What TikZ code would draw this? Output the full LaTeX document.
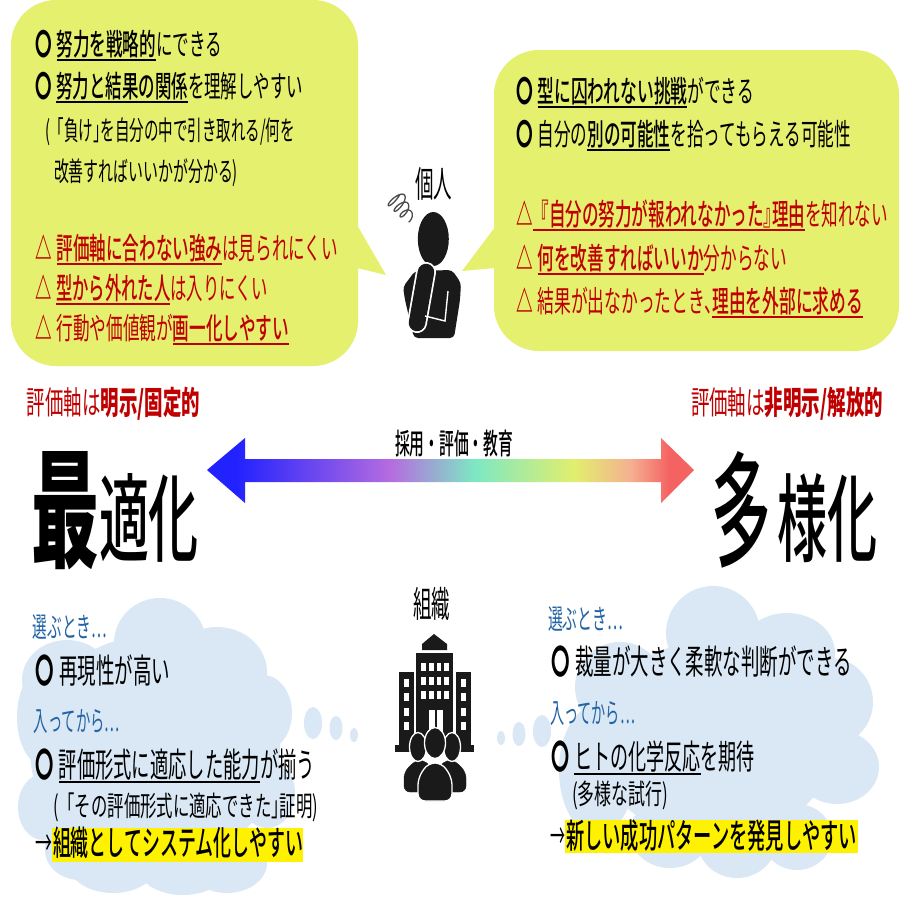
\documentclass[tikz,border=0pt]{standalone}
\usepackage{graphicx}
\usepackage{fontspec}
\setmainfont{Noto Sans CJK JP}
\newfontfamily\med{Noto Sans CJK JP Medium}
\definecolor{bub}{HTML}{E5F06F}
\definecolor{redt}{HTML}{C00000}
\definecolor{bluet}{HTML}{2364A4}
\definecolor{cloud}{HTML}{DAE8F5}
\definecolor{ink}{HTML}{1A1A1A}
\definecolor{ga}{HTML}{2222FF}
\definecolor{gb}{HTML}{B56CE0}
\definecolor{gc}{HTML}{7DE8C3}
\definecolor{gd}{HTML}{E2EE6E}
\definecolor{ge}{HTML}{F5B090}
\definecolor{gf}{HTML}{F56262}
\pgfdeclarehorizontalshading{rain}{100bp}{color(0bp)=(ga);color(25bp)=(ga);color(28bp)=(ga);color(43.85bp)=(gb);color(52.5bp)=(gc);color(62.75bp)=(gd);color(68.5bp)=(ge);color(72.5bp)=(gf);color(75bp)=(gf);color(100bp)=(gf)}
\newcommand\ulx[1]{\setbox0\hbox{#1}\rlap{\rule[-5.5pt]{\wd0}{1.3pt}}\box0}
\newcommand\ub[1]{\ulx{{\med #1}}}
\newcommand\W[2]{\resizebox{#1pt}{\height}{#2}}
\newcommand\HH[3]{\resizebox{#1pt}{#2pt}{#3}}
\newcommand\gap{\hspace{0.3em}}
\newcommand\tk{\hspace{-0.5em}}
\newcommand\cir{\textbf{〇}}
\newcommand\tri{\textbf{△}}
\tikzset{
  txt/.style={anchor=base west,inner sep=0pt,outer sep=0pt,font=\fontsize{30}{30}\selectfont},
  small/.style={txt,font=\fontsize{27}{27}\selectfont},
  redline/.style={txt,text=redt},
  lab/.style={txt,text=redt,font=\fontsize{32}{32}\selectfont},
  bluel/.style={txt,text=bluet,font=\fontsize{28}{28}\selectfont},
  big/.style={txt,font=\fontsize{34}{34}\selectfont},
  bigs/.style={txt,font=\fontsize{28}{28}\selectfont},
  huge1/.style={txt,font=\fontsize{122}{122}\selectfont\bfseries},
  huge2/.style={txt,font=\fontsize{92}{92}\selectfont\med},
  bubble/.style={fill=bub},
  cl/.style={fill=cloud},
  icon/.style={fill=ink},
  hl/.style={fill=yellow}
}
\begin{document}
\begin{tikzpicture}[x=1pt,y=-1pt]
\useasboundingbox (0,0) rectangle (900,900);
\fill[white] (0,0) rectangle (900,900);

% speech bubbles
\fill[bubble,rounded corners=45pt] (11,0) rectangle (358,366);
\fill[bubble] (357,225) -- (386,275) -- (357,268) -- cycle;
\fill[bubble,rounded corners=45pt] (494,50) rectangle (899,351);
\fill[bubble] (495,227) -- (462,271) -- (495,268) -- cycle;

% left bubble text
\node[txt] (l1) at (35,55) {\W{187}{\cir\gap\ub{努力を戦略的}にできる}};
\node[txt] (l2) at (35,97) {\W{268}{\cir\gap\ub{努力と結果の関係}を理解しやすい}};
\node[small] (l3) at (45,140) {\W{250}{(「負け」\tk を自分の中で引き取れる/何を}};
\node[small] (l4) at (54,181) {\W{184}{改善すればいいかが分かる)}};
\node[redline] (l5) at (35,259) {\W{303}{\tri\gap\ub{評価軸に合わない強み}は見られにくい}};
\node[redline] (l6) at (35,299) {\W{233}{\tri\gap\ub{型から外れた人}は入りにくい}};
\node[redline] (l7) at (35,339) {\W{254}{\tri\gap 行動や価値観が\ub{画一化しやすい}}};

% right bubble text
\node[txt] (r1) at (516,102) {\W{238}{\cir\gap\ub{型に囚われない挑戦}ができる}};
\node[txt] (r2) at (516,145) {\W{335}{\cir\gap 自分の\ub{別の可能性}を拾ってもらえる可能性}};
\node[redline] (r3) at (516,225) {\W{372}{\tri\ub{『自分の努力が報われなかった』\tk 理由}を知れない}};
\node[redline] (r4) at (516,269) {\W{271}{\tri\gap\ub{何を改善すればいいか}分からない}};
\node[redline] (r5) at (516,312) {\W{347}{\tri\gap 結果が出なかったとき、\tk\ub{理由を外部に求める}}};

% person
\node[txt,font=\fontsize{36}{36}\selectfont] (kojin) at (415,197) {\W{37}{個人}};
\draw[color=black!70,line width=1.3pt,line join=round] plot[domain=0:1150,samples=160,smooth] ({394+\x/1150*15+(11-\x/1150*6)*cos(\x+60)*.7+3.5*sin(\x+60)*.7},{196+\x/1150*22-(11-\x/1150*6)*cos(\x+60)*.7+3.5*sin(\x+60)*.7});
\fill[icon] (433.3,239) ellipse [x radius=15.5,y radius=27];
\fill[icon,rounded corners=4pt] (415,271) -- (452,270) -- (461,283) -- (460,300) -- (454,338) -- (414,338) -- (405,300) -- (403,287) -- cycle;
\draw[white,line width=20pt,line cap=round] (426,272) -- (417,323);
\draw[ink,line width=16.5pt,line cap=round] (426,272) -- (417,323);
\draw[white,line width=1.4pt] (448,291) -- (445,321) -- (425,316);

% range labels
\node[lab] (al) at (27,414) {\W{173}{評価軸は\textbf{明示/固定的}}};
\node[lab] (ar) at (691,414) {\W{192}{評価軸は\textbf{非明示/解放的}}};

% gradient arrow
\path[shading=rain] (207,470) -- (245,438) -- (245,459) -- (661,459) -- (661,438) -- (694,470) -- (661,503) -- (661,482) -- (245,482) -- (245,503) -- cycle;
\node[txt,font=\fontsize{29}{29}\selectfont\med] (mid) at (395,454) {\W{118}{採用・評価・教育}};

% titles
\node[huge1] (t1) at (31,557) {\HH{68}{106}{最}};
\node[huge2] (t2) at (99,554) {\HH{100}{81}{適化}};
\node[huge2] (t3) at (711,557) {\HH{60}{106}{多}};
\node[huge2] (t4) at (777,554) {\HH{100}{81}{様化}};

% left cloud
\foreach \a/\b/\c/\d in {160/643/46/45,217/672/50/45,263/713/29/38,43/717/26/48,67/680/45/40,43/807/25/33,113/863/45/30,183/867/45/28,227/863/40/30,267/793/28/35,155/750/125/115,80/850/35/30}
  \fill[cl] (\a,\b) ellipse [x radius=\c,y radius=\d];
\fill[cl] (313,723) ellipse [x radius=9,y radius=16];
\fill[cl] (336,728) ellipse [x radius=6.5,y radius=12];
\fill[cl] (354,735) ellipse [x radius=4,y radius=7];

% right cloud
\foreach \a/\b/\c/\d in {713/633/47/47,787/653/48/40,830/702/43/44,837/767/42/37,737/840/40/38,670/833/40/35,797/837/35/33,597/770/38/65,620/687/45/45,715/740/120/100}
  \fill[cl] (\a,\b) ellipse [x radius=\c,y radius=\d];
\fill[cl] (542,731) ellipse [x radius=9,y radius=16];
\fill[cl] (519,734) ellipse [x radius=6.5,y radius=12];
\fill[cl] (501,738) ellipse [x radius=4,y radius=7];

% left cloud text
\node[bluel] (b1) at (33,637) {\W{74}{選ぶとき…}};
\node[big] (b2) at (35,683) {\W{135}{\cir\gap 再現性が高い}};
\node[bluel] (b3) at (34,731) {\W{86}{入ってから…}};
\node[big] (b4) at (35,777) {\W{280}{\cir\gap\ulx{評価形式に適応した能力}が揃う}};
\node[bigs] (b5) at (53,816) {\W{265}{(「その評価形式に適応できた」\tk 証明)}};
\fill[hl] (52,828) rectangle (303,862);
\node[big] (b6) at (35,855) {\W{17}{→}};
\node[big] (b7) at (53,855) {\W{250}{{\med 組織としてシステム化しやすい}}};

% right cloud text
\node[bluel] (c1) at (548,629) {\W{75}{選ぶとき…}};
\node[big] (c2) at (551,674) {\W{301}{\cir\gap 裁量が大きく柔軟な判断ができる}};
\node[bluel] (c3) at (550,723) {\W{85}{入ってから…}};
\node[big] (c4) at (551,769) {\W{204}{\cir\gap\ulx{ヒトの化学反応}を期待}};
\node[bigs] (c5) at (572,804) {\W{96}{(多様な試行)}};
\fill[hl] (565,820) rectangle (858,853);
\node[big] (c6) at (550,848) {\W{15}{→}};
\node[big] (c7) at (566,848) {\W{291}{{\med 新しい成功パターンを発見しやすい}}};

% organisation icon
\node[txt,font=\fontsize{36}{36}\selectfont] (soshiki) at (413,617) {\W{37}{組織}};
\fill[icon] (422,650) -- (422,644) -- (434,634) -- (447,644) -- (447,650) -- cycle;
\fill[icon] (416,653) rectangle (453,745);
\fill[icon] (399,672) rectangle (414,745);
\fill[icon] (456,672) rectangle (471,745);
\fill[icon] (395,745) rectangle (474,752);
\foreach \x in {421,429,436.5,444}
  \foreach \y in {662.5,676.5,691}
    \fill[white] (\x,\y) rectangle +(4.8,8);
\foreach \x in {404,461}
  \foreach \y in {679,693,708,722}
    \fill[white] (\x,\y) rectangle +(5,7.5);
\fill[white] (429,710) rectangle (443,735);
\fill[icon] (435.4,710) rectangle (436.6,735);
\foreach \xa/\xb in {404/436,434/466}
  \filldraw[ink,rounded corners=6pt] (\xa,792) -- (\xa,772) -- (\xa+12,760) -- (\xb-12,760) -- (\xb,772) -- (\xb,792) -- cycle;
\filldraw[fill=ink,draw=white,line width=1.3pt] (418,747) ellipse [x radius=8.5,y radius=14.5];
\filldraw[fill=ink,draw=white,line width=1.3pt] (452,747) ellipse [x radius=8.5,y radius=14.5];
\filldraw[fill=ink,draw=white,line width=1.3pt] (435,743) ellipse [x radius=10.5,y radius=15.5];
\filldraw[fill=ink,draw=white,line width=1.3pt,rounded corners=7pt] (418,801) -- (418,778) -- (428,763) -- (442,763) -- (452,778) -- (452,801) -- cycle;
\end{tikzpicture}
\end{document}
